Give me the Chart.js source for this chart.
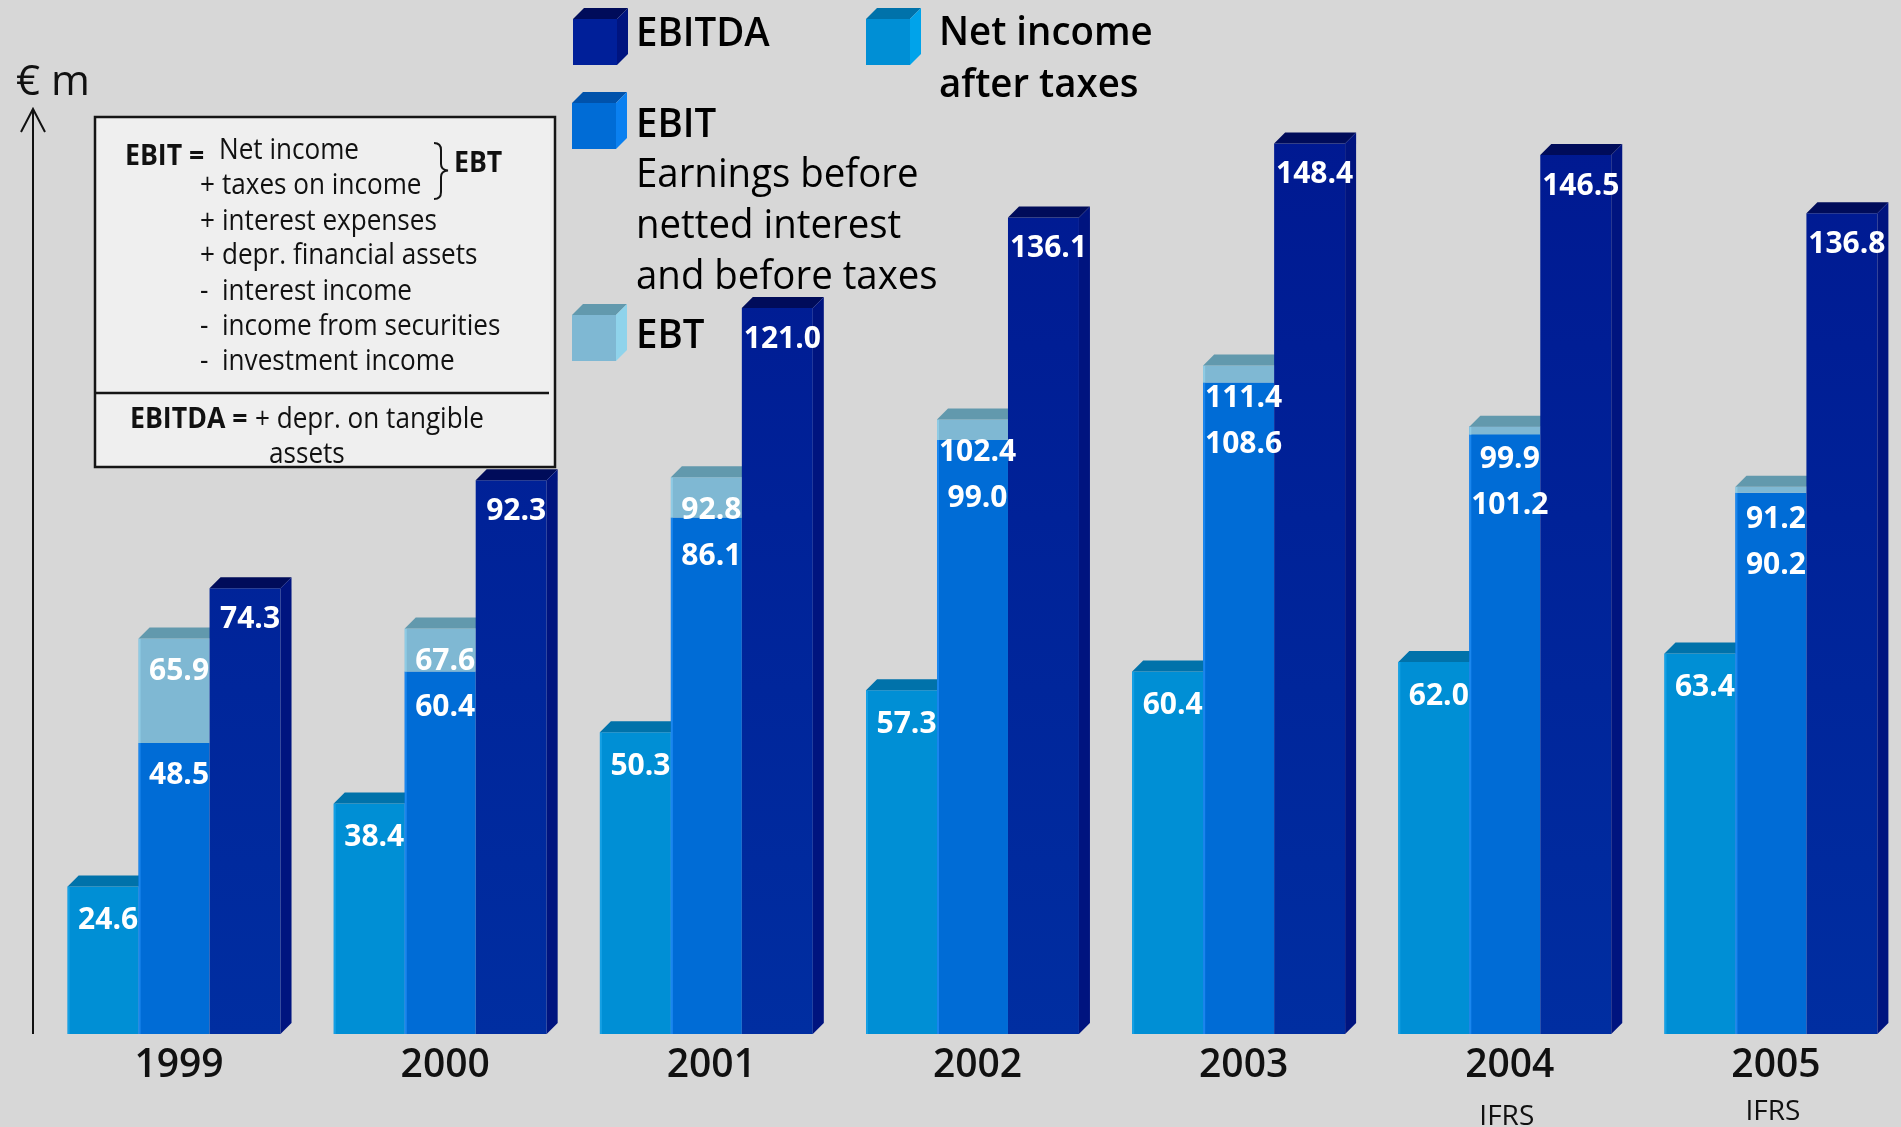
<!DOCTYPE html>
<html>
<head>
<meta charset="utf-8">
<title>Earnings 1999 – 2005</title>
<script src="https://cdn.jsdelivr.net/npm/chart.js@4.4.1/dist/chart.umd.min.js"></script>
<style>
  html, body { margin: 0; padding: 0; background: #d7d7d7; overflow: hidden; }
  #wrap { position: relative; width: 1910px; height: 1127px; }
  canvas { display: block; }
</style>
</head>
<body>
<div id="wrap"><canvas id="chart" width="1910" height="1127"></canvas></div>
<script>
// ---- data (€ m) ----
const years      = ['1999', '2000', '2001', '2002', '2003', '2004', '2005'];
const yearNotes  = ['', '', '', '', '', 'IFRS', 'IFRS'];
const netIncome  = [24.6, 38.4, 50.3, 57.3, 60.4, 62.0, 63.4];
const ebit       = [48.5, 60.4, 86.1, 99.0, 108.6, 101.2, 90.2];
const ebt        = [65.9, 67.6, 92.8, 102.4, 111.4, 99.9, 91.2];
const ebitda     = [74.3, 92.3, 121.0, 136.1, 148.4, 146.5, 136.8];
const valueFmt   = v => v.toFixed(1);

// ---- styles ----
const palette = [
  { front: '#008fd5', top: '#0072aa', side: '#00a3ea', edge: '#14a0e4' },   // net income
  { front: '#006cd6', top: '#0052ab', side: '#0a80f0', edge: '#1a86ee' },   // EBIT
  { front: '#7fb8d3', top: '#6299ad', side: '#8fd3eb', edge: '#8fcbe4' },   // EBT
  { front: '#001f99', top: '#000c5a', side: '#00147f', edge: null }         // EBITDA
];
const DEPTH = 11;
const FONT = '"Open Sans", "Noto Sans", sans-serif';

function poly(ctx, pts, color) {
  ctx.beginPath();
  ctx.moveTo(pts[0][0], pts[0][1]);
  for (let i = 1; i < pts.length; i++) ctx.lineTo(pts[i][0], pts[i][1]);
  ctx.closePath();
  ctx.fillStyle = color;
  ctx.fill();
}

function text(ctx, s, x, y, font, opts = {}) {
  ctx.save();
  ctx.font = font;
  ctx.fillStyle = opts.color || '#000';
  ctx.textBaseline = 'alphabetic';
  ctx.textAlign = opts.align || 'left';
  ctx.translate(x, y);
  ctx.scale(opts.sx || 1, 1);
  ctx.fillText(s, 0, 0);
  ctx.restore();
}

function cube(ctx, x, y, w, h, c) {
  poly(ctx, [[x, y], [x + w, y], [x + w + DEPTH, y - DEPTH], [x + DEPTH, y - DEPTH]], c.top);
  poly(ctx, [[x + w, y], [x + w + DEPTH, y - DEPTH], [x + w + DEPTH, y + h - DEPTH], [x + w, y + h]], c.side);
  ctx.fillStyle = c.front;
  ctx.fillRect(x, y, w, h);
}

// bars with a shaded top face (and a side face on the right-hand bar), drawn left to right
const bars3d = {
  id: 'bars3d',
  beforeDatasetsDraw(chart) {
    const ctx = chart.ctx;
    const metas = [0, 1, 2, 3].map(i => chart.getDatasetMeta(i));
    const tops = metas.map(() => []);

    metas.forEach((meta, d) => {
      const c = palette[d];
      meta.data.forEach((el, i) => {
        const { x, y, base, width } = el.getProps(['x', 'y', 'base', 'width'], true);
        const left = x - width / 2, right = x + width / 2;
        const top = Math.min(y, base), bottom = Math.max(y, base);
        tops[d][i] = { x, top, left, right, bottom };
        el.draw(ctx);
        if (c.edge) {
          ctx.fillStyle = c.edge;
          ctx.fillRect(left, top, 2, bottom - top);
        }
        if (d === 1) return; // EBIT top is covered by the EBT segment
        poly(ctx, [[left, top], [right, top], [right + DEPTH, top - DEPTH], [left + DEPTH, top - DEPTH]], c.top);
        if (d === 3) {
          poly(ctx, [[right, top], [right + DEPTH, top - DEPTH], [right + DEPTH, bottom - DEPTH], [right, bottom]], c.side);
        }
      });
    });

    // value labels
    const lblFont = `bold 30px ${FONT}`;
    const put = (v, x, capCenter) => text(ctx, valueFmt(v), x + 5, capCenter + 10.5, lblFont, { color: '#fff', align: 'center' });
    years.forEach((yr, i) => {
      put(netIncome[i], tops[0][i].x, tops[0][i].top + 32);
      put(ebitda[i], tops[3][i].x, tops[3][i].top + 29);
      const ebtY = tops[2][i].top + 31;
      put(ebt[i], tops[2][i].x, ebtY);
      const ebitTop = chart.scales.y.getPixelForValue(ebit[i]);
      put(ebit[i], tops[1][i].x, Math.max(ebitTop + 30, ebtY + 46));
    });
    return false; // bars are fully drawn here
  }
};

// category labels, axis arrow, legend and the definition box
const decorations = {
  id: 'decorations',
  afterDraw(chart) {
    const ctx = chart.ctx;
    const xs = chart.scales.x, ys = chart.scales.y;
    const y0 = ys.getPixelForValue(0);

    years.forEach((yr, i) => {
      const cx = xs.getPixelForValue(i);
      text(ctx, yr, cx + 5, y0 + 43, `600 39px ${FONT}`, { align: 'center', color: '#111' });
      if (yearNotes[i]) {
        text(ctx, yearNotes[i], cx + 2, i === 5 ? y0 + 91 : y0 + 86, `400 28px ${FONT}`, { align: 'center', color: '#111' });
      }
    });

    // value axis arrow
    ctx.save();
    ctx.strokeStyle = '#111';
    ctx.lineWidth = 2;
    ctx.beginPath();
    ctx.moveTo(33, y0);
    ctx.lineTo(33, 109);
    ctx.moveTo(21, 132);
    ctx.lineTo(33, 109);
    ctx.lineTo(45, 132);
    ctx.stroke();
    ctx.restore();
    text(ctx, '€ m', 16, 95, `400 42px ${FONT}`, { color: '#111' });

    // legend
    const ds = chart.data.datasets;
    const legend = [
      { d: 3, x: 573, y: 19, lines: [[ds[3].label, 46, 600]] },
      { d: 0, x: 866, y: 19, lines: [['Net income', 45, 600], ['after taxes', 97, 600]] },
      { d: 1, x: 572, y: 103, lines: [[ds[1].label, 137, 600], ['Earnings before', 187, 400],
                                      ['netted interest', 238, 400], ['and before taxes', 289, 400]] },
      { d: 2, x: 572, y: 315, lines: [[ds[2].label, 348, 600]] }
    ];
    legend.forEach(item => {
      cube(ctx, item.x, item.y, 44, 46, palette[item.d]);
      const tx = item.d === 0 ? 939 : 636;
      item.lines.forEach(([s, by, w]) => {
        text(ctx, s, tx, by, `${w} 40px ${FONT}`, { sx: 0.96, color: '#000' });
      });
    });

    // definition box
    ctx.save();
    ctx.fillStyle = '#efefef';
    ctx.fillRect(95, 117, 460, 350);
    ctx.strokeStyle = '#151515';
    ctx.lineWidth = 2.5;
    ctx.strokeRect(95, 117, 460, 350);
    ctx.beginPath();
    ctx.moveTo(95, 393);
    ctx.lineTo(549, 393);
    ctx.stroke();
    // brace grouping the first two rows
    ctx.lineWidth = 2;
    ctx.beginPath();
    ctx.moveTo(434, 143);
    ctx.quadraticCurveTo(441, 143, 441, 150);
    ctx.lineTo(441, 164);
    ctx.quadraticCurveTo(441, 170, 448, 170.5);
    ctx.quadraticCurveTo(441, 171, 441, 177);
    ctx.lineTo(441, 192);
    ctx.quadraticCurveTo(441, 199, 434, 199);
    ctx.stroke();
    ctx.restore();

    const reg = `400 29px ${FONT}`, bold = `700 29px ${FONT}`;
    const s = { sx: 0.9, color: '#111' };
    text(ctx, 'EBIT =', 125, 165, bold, { sx: 0.92, color: '#111' });
    text(ctx, 'Net income', 219, 159, reg, s);
    const rows = [['+', 'taxes on income', 194], ['+', 'interest expenses', 230], ['+', 'depr. financial assets', 264],
                  ['-', 'interest income', 300], ['-', 'income from securities', 335], ['-', 'investment income', 370]];
    rows.forEach(([sign, label, by]) => {
      text(ctx, sign, 200, by, reg, s);
      text(ctx, label, 222, by, reg, s);
    });
    text(ctx, 'EBT', 454, 172, bold, { sx: 0.92, color: '#111' });
    text(ctx, 'EBITDA =', 130, 428, bold, { sx: 0.92, color: '#111' });
    text(ctx, '+ depr. on tangible', 255, 428, reg, s);
    text(ctx, 'assets', 269, 463, reg, s);
  }
};

function ebitdaFill(context) {
  const area = context.chart.chartArea;
  if (!area) return palette[3].front;
  const g = context.chart.ctx.createLinearGradient(0, area.top, 0, area.bottom);
  g.addColorStop(0, '#00168f');
  g.addColorStop(1, '#002ea1');
  return g;
}

function build() {
  new Chart(document.getElementById('chart'), {
    type: 'bar',
    data: {
      labels: years,
      datasets: [
        { label: 'Net income after taxes', data: netIncome, stack: 'ni', backgroundColor: palette[0].front },
        { label: 'EBIT', data: ebit, stack: 'eb', backgroundColor: palette[1].front },
        { label: 'EBT', data: ebt.map((v, i) => [ebit[i], v]), stack: 'eb', backgroundColor: palette[2].front },
        { label: 'EBITDA', data: ebitda, stack: 'da', backgroundColor: ebitdaFill }
      ]
    },
    options: {
      responsive: false,
      devicePixelRatio: 1,
      animation: false,
      events: [],
      layout: { padding: { left: 41, right: 6, top: 2, bottom: 93 } },
      datasets: { bar: { categoryPercentage: 0.8, barPercentage: 1.0, borderWidth: 0, inflateAmount: 0 } },
      scales: {
        x: { type: 'category', stacked: true, display: false },
        y: { min: 0, max: 172, stacked: false, display: false }
      },
      plugins: { legend: { display: false }, tooltip: { enabled: false }, title: { display: false } }
    },
    plugins: [bars3d, decorations]
  });
}

const fontLoads = ['400 29px "Open Sans"', '600 39px "Open Sans"', '700 29px "Open Sans"'].map(f => document.fonts.load(f));
Promise.all(fontLoads).then(build, build);
</script>
</body>
</html>
